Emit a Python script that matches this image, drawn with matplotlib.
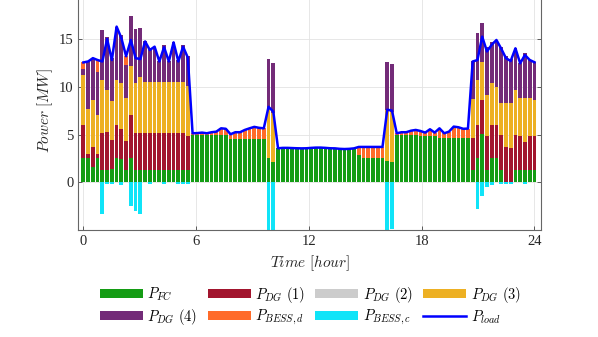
import numpy as np
import matplotlib
matplotlib.use('Agg')
from matplotlib import pyplot as plt

# 15-min resolution over one day (96 steps), values in MW
hours = np.linspace(0, 24, 96)

p_fc = [2.5, 2.5, 1.65, 2.5, 1.3, 1.3, 1.35, 2.5, 2.45, 1.3, 2.5, 1.3,
        1.3, 1.3, 1.3, 1.3, 1.3, 1.3, 1.3, 1.3, 1.3, 1.3, 1.3, 4.9,
        4.9, 4.9, 4.9, 4.9, 4.9, 4.9, 4.9, 4.55, 4.55, 4.55, 4.55, 4.55,
        4.55, 4.55, 4.55, 2.5, 2.1, 3.56, 3.6, 3.6, 3.58, 3.56, 3.55, 3.56,
        3.6, 3.63, 3.63, 3.6, 3.56, 3.55, 3.5, 3.48, 3.5, 3.55, 2.85, 2.5,
        2.5, 2.5, 2.5, 2.5, 2.25, 2.1, 4.9, 4.9, 4.9, 4.9, 4.9, 4.85,
        4.85, 4.85, 4.85, 4.6, 4.6, 4.6, 4.6, 4.6, 4.6, 4.6, 1.3, 2.5,
        5.1, 1.3, 2.5, 2.5, 1.3, 0.0, 0.0, 1.3, 1.3, 1.3, 1.3, 1.3]

p_dg1 = [3.5, 0.5, 2.0, 0.5, 3.85, 3.95, 3.1, 3.5, 3.15, 3.0, 4.55, 3.85,
         3.85, 3.85, 3.85, 3.85, 3.85, 3.85, 3.85, 3.85, 3.85, 3.85, 3.55, 0,
         0, 0, 0, 0, 0, 0, 0, 0, 0, 0, 0, 0,
         0, 0, 0, 0, 0, 0, 0, 0, 0, 0, 0, 0,
         0, 0, 0, 0, 0, 0, 0, 0, 0, 0, 0, 0,
         0, 0, 0, 0, 0, 0, 0, 0, 0, 0, 0, 0,
         0, 0, 0, 0, 0, 0, 0, 0, 0, 0, 3.3, 3.5,
         3.5, 3.5, 3.5, 3.5, 3.67, 3.73, 3.56, 3.67, 3.5, 2.96, 3.5, 3.5]

p_dg2 = [0] * 96  # DG 2 is never dispatched

p_dg3 = [5.25, 4.7, 5.0, 4.05, 5.55, 4.45, 4.1, 4.7, 4.8, 4.5, 5.15, 5.25,
         5.9, 5.4, 5.4, 5.4, 5.4, 5.4, 5.4, 5.4, 5.4, 5.4, 5.2, 0,
         0, 0, 0, 0, 0, 0, 0, 0, 0, 0, 0, 0,
         0, 0, 0, 5.25, 5.2, 0, 0, 0, 0, 0, 0, 0,
         0, 0, 0, 0, 0, 0, 0, 0, 0, 0, 0, 0,
         0, 0, 0, 0, 5.35, 5.3, 0, 0, 0, 0, 0, 0,
         0, 0, 0, 0, 0, 0, 0, 0, 0, 0, 4.1, 4.7,
         4.0, 4.37, 4.37, 4.0, 3.3, 4.54, 4.7, 4.7, 4.0, 4.55, 4.0, 3.8]

p_dg4 = [0.6, 4.95, 4.35, 4.45, 5.25, 5.5, 4.45, 5.6, 5.0, 3.5, 5.2, 5.6,
         5.15, 4.2, 3.5, 3.65, 2.1, 3.8, 2.1, 4.1, 2.3, 3.85, 3.2, 0,
         0, 0, 0, 0, 0, 0, 0, 0, 0, 0, 0, 0,
         0, 0, 0, 5.15, 5.2, 0, 0, 0, 0, 0, 0, 0,
         0, 0, 0, 0, 0, 0, 0, 0, 0, 0, 0, 0,
         0, 0, 0, 0, 5.0, 5.0, 0, 0, 0, 0, 0, 0,
         0, 0, 0, 0, 0, 0, 0, 0, 0, 0, 3.95, 4.9,
         4.1, 5.03, 4.36, 4.9, 5.93, 4.93, 4.6, 4.36, 3.66, 4.72, 4.01, 3.97]

p_bess_d = [0.7, 0, 0, 1.3, 0, 0, 0, 0, 0, 0.9, 0, 0,
            0, 0, 0, 0, 0, 0, 0, 0, 0, 0, 0, 0.23,
            0.25, 0.3, 0.23, 0.34, 0.4, 0.75, 0.7, 0.48, 0.69, 0.69, 0.93, 1.1,
            1.25, 1.15, 1.1, 0, 0, 0, 0, 0, 0, 0, 0, 0,
            0, 0, 0, 0, 0, 0, 0, 0, 0, 0, 0.85, 1.2,
            1.2, 1.2, 1.2, 1.2, 0, 0, 0.23, 0.34, 0.34, 0.5, 0.58, 0.52,
            0.35, 0.7, 0.35, 1.05, 0.53, 0.7, 1.23, 1.16, 1.0, 1.02, 0, 0,
            0, 0, 0, 0, 0, 0, 0, 0, 0, 0, 0, 0]

p_bess_c = [0, 0, 0, 0, -3.3, -0.2, -0.2, 0, -0.3, 0, -2.5, -3.0,
            -3.3, 0, -0.2, 0, 0, -0.2, 0, 0, -0.2, -0.2, -0.2, 0,
            0, 0, 0, 0, 0, 0, 0, 0, 0, 0, 0, 0,
            0, 0, 0, -5.0, -5.1, 0, 0, 0, 0, 0, 0, 0,
            0, 0, 0, 0, 0, 0, 0, 0, 0, 0, 0, 0,
            0, 0, 0, 0, -5.0, -4.9, 0, 0, 0, 0, 0, 0,
            0, 0, 0, 0, 0, 0, 0, 0, 0, 0, 0, -2.8,
            -1.45, -0.5, -0.33, 0, -0.2, -0.2, -0.16, 0, 0, -0.2, 0, 0]

p_load = [12.55, 12.65, 13.0, 12.8, 12.65, 15.0, 12.8, 16.3, 15.1, 13.2, 14.9, 13.0,
          12.9, 14.75, 13.85, 14.2, 12.65, 14.15, 12.65, 14.65, 12.65, 14.2, 13.05, 5.13,
          5.15, 5.2, 5.13, 5.24, 5.3, 5.65, 5.6, 5.03, 5.24, 5.24, 5.48, 5.65,
          5.8, 5.7, 5.65, 7.9, 7.4, 3.56, 3.6, 3.6, 3.58, 3.56, 3.55, 3.56,
          3.6, 3.63, 3.63, 3.6, 3.56, 3.55, 3.5, 3.48, 3.5, 3.55, 3.7, 3.7,
          3.7, 3.7, 3.7, 3.7, 7.6, 7.5, 5.13, 5.24, 5.24, 5.4, 5.48, 5.37,
          5.2, 5.55, 5.2, 5.65, 5.13, 5.3, 5.83, 5.76, 5.6, 5.62, 12.65, 12.8,
          15.25, 13.7, 14.4, 14.9, 14.0, 13.0, 12.7, 14.03, 12.46, 13.33, 12.81, 12.57]

plt.rcParams['mathtext.fontset'] = 'cm'
plt.rcParams['font.family'] = 'Liberation Serif'

fig = plt.figure(figsize=(5.98, 3.37), dpi=100)
ax = fig.add_axes([78.3 / 598, 107 / 337, 462.7 / 598, 238.7 / 337])

width = 0.2
stack = [(p_fc, '#149c14', r'$P_{FC}$'),
         (p_dg1, '#a2152e', r'$P_{DG}\ (1)$'),
         (p_dg2, '#cccccc', r'$P_{DG}\ (2)$'),
         (p_dg3, '#edb023', r'$P_{DG}\ (3)$'),
         (p_dg4, '#732b78', r'$P_{DG}\ (4)$'),
         (p_bess_d, '#ff6b2a', r'$P_{BESS,d}$')]

handles = {}
bottom = np.zeros(len(hours))
for vals, col, lab in stack:
    vals = np.array(vals, dtype=float)
    handles[lab] = ax.bar(hours, vals, width, bottom=bottom, color=col, zorder=2)
    bottom += vals
handles[r'$P_{BESS,c}$'] = ax.bar(hours, p_bess_c, width, color='#10e4f8', zorder=2)
handles[r'$P_{load}$'], = ax.plot(hours, p_load, color='#0000ff', lw=1.8, zorder=3)

ax.set_xlim(-0.27, 24.35)
ax.set_ylim(-5, 20)
ax.set_xticks([0, 6, 12, 18, 24])
ax.set_yticks([0, 5, 10, 15])
ax.grid(True, color='#e3e3e3', lw=0.6)
ax.set_axisbelow(True)
ax.tick_params(direction='in', top=True, right=True, length=3, width=0.6,
               color='#444444', labelcolor='#262626', labelsize=10.5)
for sp in ax.spines.values():
    sp.set_color('#666666')
    sp.set_linewidth(0.8)

ax.set_xlabel(r'$Time\ [hour]$', fontsize=11, color='#262626', labelpad=4)
ax.set_ylabel(r'$Power\ [MW]$', fontsize=11, color='#262626', labelpad=3)

# MATLAB-style row-wise legend -> reorder for matplotlib's column filling
order = [r'$P_{FC}$', r'$P_{DG}\ (4)$', r'$P_{DG}\ (1)$', r'$P_{BESS,d}$',
         r'$P_{DG}\ (2)$', r'$P_{BESS,c}$', r'$P_{DG}\ (3)$', r'$P_{load}$']
fig.legend([handles[k] for k in order], order, ncol=4, loc='center',
           bbox_to_anchor=(0.519, 0.092), frameon=False, fontsize=10.5,
           handlelength=2.95, handleheight=0.6, handletextpad=0.3,
           columnspacing=0.7, labelspacing=0.25)

fig.savefig('out.png', dpi=100)
